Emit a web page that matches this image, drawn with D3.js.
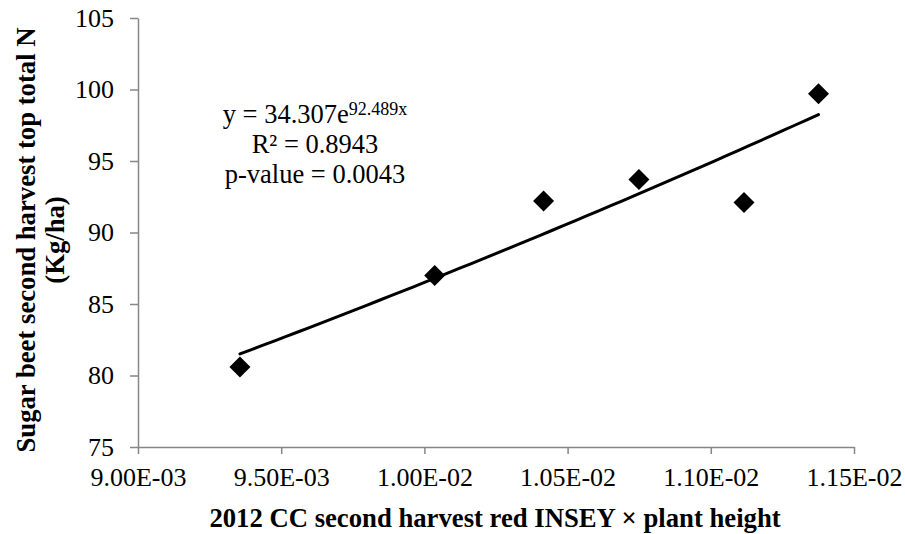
<!DOCTYPE html>
<html>
<head>
<meta charset="utf-8">
<script src="https://cdn.jsdelivr.net/npm/d3@7/dist/d3.min.js"></script>
<style>
  html, body { margin: 0; padding: 0; background: #fff; }
  svg { display: block; }
</style>
</head>
<body>
<svg id="chart" width="905" height="534"></svg>
<script>
// Observed values: red INSEY × plant height vs. second-harvest top total N
const xValues = [0.009356, 0.010036, 0.010416, 0.010749, 0.011116, 0.011376];
const yValues = [80.6, 87.0, 92.2, 93.7, 92.1, 99.7];

// Axis ticks
const xTicks = [0.0090, 0.0095, 0.0100, 0.0105, 0.0110, 0.0115];
const xTickLabels = ["9.00E-03", "9.50E-03", "1.00E-02", "1.05E-02", "1.10E-02", "1.15E-02"];
const yTicks = [75, 80, 85, 90, 95, 100, 105];

// Exponential trend line y = a·e^(b·x)
const fitA = 34.307;
const fitB = 92.489;
const fitR2 = "0.8943";
const fitP = "0.0043";

const xTitle = "2012 CC second harvest red INSEY × plant height";
const yTitleLines = ["Sugar beet second harvest top total N", "(Kg/ha)"];

const serif = '"Liberation Serif", "Times New Roman", Times, serif';
const svg = d3.select("#chart").attr("font-family", serif);
const axisColor = "#868686";

const x = d3.scaleLinear().domain([0.0090, 0.0115]).range([138, 854]);
const y = d3.scaleLinear().domain([75, 105]).range([447, 18]);

function styleAxis(g, size) {
  g.attr("font-family", serif).attr("font-size", null);
  g.select(".domain").attr("stroke", axisColor).attr("stroke-width", 1.5);
  g.selectAll(".tick line").attr("stroke", axisColor).attr("stroke-width", 1.5);
  g.selectAll(".tick text")
    .attr("fill", "#000")
    .attr("font-family", serif)
    .style("font-family", serif)
    .style("font-size", size + "px");
}

// X axis
const xAxis = d3.axisBottom(x)
  .tickValues(xTicks)
  .tickFormat((d, i) => xTickLabels[i])
  .tickSizeInner(7).tickSizeOuter(0).tickPadding(14);
const gx = svg.append("g").attr("transform", `translate(0,${y(75)})`).call(xAxis);
styleAxis(gx, 26);

// Y axis
const yAxis = d3.axisLeft(y)
  .tickValues(yTicks)
  .tickSizeInner(8).tickSizeOuter(0).tickPadding(16);
const gy = svg.append("g").attr("transform", `translate(${x(0.009)},0)`).call(yAxis);
styleAxis(gy, 26);

// Trend line sampled across the observed x range
const xMin = d3.min(xValues), xMax = d3.max(xValues);
const trend = d3.range(0, 51).map(i => {
  const xv = xMin + (xMax - xMin) * i / 50;
  return [xv, fitA * Math.exp(fitB * xv)];
});
svg.append("path")
  .datum(trend)
  .attr("fill", "none")
  .attr("stroke", "#000")
  .attr("stroke-width", 3)
  .attr("stroke-linecap", "round")
  .attr("d", d3.line().x(d => x(d[0])).y(d => y(d[1])));

// Diamond markers
const r = 10.5;
svg.append("g").selectAll("path")
  .data(xValues.map((xv, i) => [xv, yValues[i]]))
  .join("path")
  .attr("transform", d => `translate(${x(d[0])},${y(d[1])})`)
  .attr("d", `M0,${-r}L${r},0L0,${r}L${-r},0Z`)
  .attr("fill", "#000");

// Equation annotation
const ann = svg.append("g")
  .attr("text-anchor", "middle")
  .style("font-family", serif)
  .style("font-size", "26.5px");
const eq = ann.append("text").attr("x", 315).attr("y", 123);
eq.append("tspan").text(`y = ${fitA.toFixed(3)}e`);
eq.append("tspan").attr("dy", -8).style("font-size", "18px").text(`${fitB}x`);
ann.append("text").attr("x", 315).attr("y", 153).text(`R² = ${fitR2}`);
ann.append("text").attr("x", 315).attr("y", 183).text(`p-value = ${fitP}`);

// Axis titles
svg.append("text")
  .attr("x", 495)
  .attr("y", 527)
  .attr("text-anchor", "middle")
  .style("font-family", serif)
  .style("font-size", "26.7px").style("font-weight", "bold")
  .text(xTitle);

const yt = svg.append("text")
  .attr("transform", "translate(0,240) rotate(-90)")
  .attr("text-anchor", "middle")
  .style("font-family", serif)
  .style("font-size", "26.7px").style("font-weight", "bold");
yt.append("tspan").attr("x", 0).attr("y", 35).text(yTitleLines[0]);
yt.append("tspan").attr("x", 0).attr("y", 64).text(yTitleLines[1]);
</script>
</body>
</html>
